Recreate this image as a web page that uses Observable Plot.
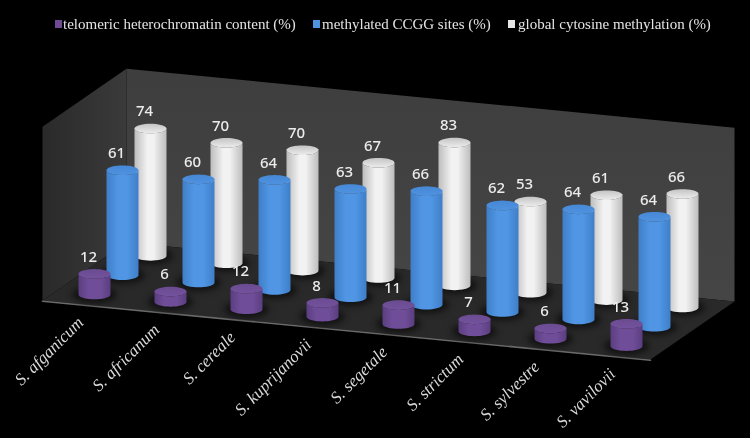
<!DOCTYPE html>
<html>
<head>
<meta charset="utf-8">
<script src="https://cdn.jsdelivr.net/npm/d3@7"></script>
<script src="https://cdn.jsdelivr.net/npm/@observablehq/plot@0.6"></script>
<style>
html,body{margin:0;padding:0;background:#000;width:750px;height:438px;overflow:hidden}
#legend{position:relative;height:40px;width:750px;font-family:"Liberation Serif",serif;font-size:15px;color:#e4e4e4;filter:blur(.3px)}
#legend .item{position:absolute;top:16px;line-height:16px;white-space:nowrap}
#legend .sw{position:absolute;top:20px;width:7px;height:8px}
#chart svg{display:block;filter:blur(.5px)}
</style>
</head>
<body>
<div id="legend"></div>
<div id="chart"></div>
<script>
const categories = ["S. afganicum","S. africanum","S. cereale","S. kuprijanovii","S. segetale","S. strictum","S. sylvestre","S. vavilovii"];
const telomeric = [12,6,12,8,11,7,6,13];
const ccgg = [61,60,64,63,66,62,64,64];
const globalMeth = [74,70,70,67,83,53,61,66];
const seriesNames = ["telomeric heterochromatin content (%)","methylated CCGG sites (%)","global cytosine methylation (%)"];
const seriesValues = [telomeric, ccgg, globalMeth];
const seriesIds = ["purple","blue","white"];

// Oblique projection: category, depth (0 front .. 1 back), value -> plane units
const catPx = 76, valPx = 1.72, depthX = 84, depthY = 58, slope = 7.375, wallTop = 101;
const X = (c, d) => c + d * depthX / catPx;
const Y = (c, d, v) => v - c * slope / valPx + d * depthY / valPx;
const rx = 16 / catPx, ry = 4.8 / valPx;
const pt = (c, d, v) => ({x: X(c, d), y: Y(c, d, v)});

const records = seriesValues.flatMap((vals, s) => vals.map((v, i) => ({
  s, i, v, cat: categories[i], cx: X(i + .5, (s + .5) / 3), cy: Y(i + .5, (s + .5) / 3, 0)
})));

const angles = d3.range(0, 37).map(k => k / 36 * 2 * Math.PI);
const half = angles.slice(0, 19);
const body = r => [
  ...half.map(a => ({key: r.i, x: r.cx + rx * Math.cos(a), y: r.cy - ry * Math.sin(a)})),
  ...half.slice().reverse().map(a => ({key: r.i, x: r.cx + rx * Math.cos(a), y: r.cy + r.v - ry * Math.sin(a)}))
];
const cap = r => angles.map(a => ({key: r.i, x: r.cx + rx * Math.cos(a), y: r.cy + r.v + ry * Math.sin(a)}));
const shadow = r => angles.map(a => ({key: r.s + "-" + r.i, x: r.cx + 1.4 * rx * Math.cos(a), y: r.cy + 1.8 * ry * Math.sin(a)}));

const polygon = (pts, fill, extra = {}) => Plot.line(pts, {x: "x", y: "y", fill, stroke: "none", ...extra});

const defs = () => {
  const stops = (id, cols, vertical) => `<linearGradient id="${id}" x1="0" y1="0" x2="${vertical ? 0 : 1}" y2="${vertical ? 1 : 0}">` +
    cols.map(([o, c]) => `<stop offset="${o}" stop-color="${c}"/>`).join("") + `</linearGradient>`;
  const g = d3.create("svg:g");
  g.html("<defs>" +
    stops("body-purple", [[0,"#5a3e80"],[.3,"#6f4d98"],[.7,"#6f4d98"],[1,"#5a3e80"]]) +
    stops("body-blue", [[0,"#3f7ec8"],[.35,"#5096e4"],[.65,"#5096e4"],[1,"#3f7ec8"]]) +
    stops("body-white", [[0,"#bdbdbd"],[.4,"#f2f2f2"],[.6,"#f2f2f2"],[1,"#bdbdbd"]]) +
    stops("cap-purple", [[0,"#6a4b90"],[1,"#74529e"]], true) +
    stops("cap-blue", [[0,"#4688d6"],[1,"#4f92e0"]], true) +
    stops("cap-white", [[0,"#c4c4c4"],[1,"#ececec"]], true) +
    stops("wall-back", [[0,"#3e3e3e"],[1,"#454545"]], true) +
    stops("wall-side", [[0,"#2a2a2a"],[1,"#3a3a3a"]]) +
    "</defs>");
  return g.node();
};

const marks = [
  defs,
  polygon([pt(0,1,0), pt(8,1,0), pt(8,1,wallTop), pt(0,1,wallTop)], "url(#wall-back)"),
  polygon([pt(0,0,0), pt(0,1,0), pt(0,1,wallTop), pt(0,0,wallTop)], "url(#wall-side)"),
  polygon([pt(0,0,0), pt(8,0,0), pt(8,1,0), pt(0,1,0)], "#292929"),
  Plot.line([pt(0,0,-0.4), pt(8,0,-0.4)], {x:"x", y:"y", stroke:"#6a6a6a", strokeWidth:1.6}),
  Plot.line(records.flatMap(shadow), {x:"x", y:"y", z:"key", fill:"#0c0c0c", stroke:"none", fillOpacity:.8, imageFilter:"blur(3px)"})
];
seriesIds.slice().reverse().forEach(id => {
  const rs = records.filter(r => seriesIds[r.s] === id);
  marks.push(
    Plot.line(rs.flatMap(body), {x:"x", y:"y", z:"key", fill:`url(#body-${id})`, stroke:"none"}),
    Plot.line(rs.flatMap(cap), {x:"x", y:"y", z:"key", fill:`url(#cap-${id})`, stroke:"none"})
  );
});
marks.push(
  Plot.text(records, {x:"cx", y:d => d.cy + d.v, text:d => String(d.v), dx:-6, dy:-17, fill:"#ececec",
    fontFamily:"'Noto Sans',sans-serif", fontSize:15, fontWeight:500, textAnchor:"middle"}),
  Plot.text(categories.map((cat, i) => ({cat, ...pt(i + .5, 0, 0)})), {x:"x", y:"y", text:"cat", dx:0, dy:15.5, rotate:-45,
    textAnchor:"end", fill:"#d9d9d9", fontFamily:"'Liberation Serif',serif", fontStyle:"italic", fontSize:17})
);

const pxLeft = 42, pxBase = 260, W = 750, H = 398;
const chart = Plot.plot({
  width: W, height: H, margin: 0,
  x: {domain: [-pxLeft / catPx, (W - pxLeft) / catPx], axis: null},
  y: {domain: [(pxBase - H) / valPx, pxBase / valPx], axis: null},
  style: {background: "#000", overflow: "visible"},
  marks
});
document.getElementById("chart").appendChild(chart);

const legend = d3.select("#legend");
const swatches = ["#6d4b96", "#4f93e0", "#e6e6e6"];
const legendX = [[55, 63], [313, 322], [508, 518]];
seriesNames.forEach((n, i) => {
  legend.append("div").attr("class", "sw").style("left", legendX[i][0] + "px").style("background", swatches[i]);
  legend.append("div").attr("class", "item").style("left", legendX[i][1] + "px").text(n);
});
</script>
</body>
</html>
